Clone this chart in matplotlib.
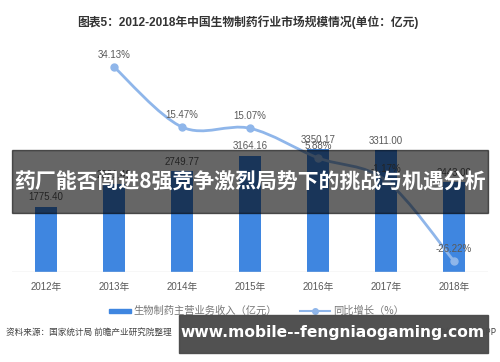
import matplotlib
matplotlib.use("Agg")
import matplotlib.pyplot as plt
from matplotlib.path import Path
from matplotlib.patches import PathPatch, Rectangle
import numpy as np

years = ["2012年", "2013年", "2014年", "2015年", "2016年", "2017年", "2018年"]
revenue = [1775.40, 2381.40, 2749.77, 3164.16, 3350.17, 3311.00, 2443.00]
growth = [None, 34.13, 15.47, 15.07, 5.88, -1.17, -26.22]
revenue_labels = ["1775.40", "2381.40", "2749.77", "3164.16", "3350.17", "3311.00", "2443.00"]
growth_labels = ["", "34.13%", "15.47%", "15.07%", "5.88%", "-1.17%", "-26.22%"]

title = "图表5：2012-2018年中国生物制药行业市场规模情况(单位：亿元)"
legend_bar = "生物制药主营业务收入（亿元）"
legend_line = "同比增长（%）"
source = "资料来源：国家统计局 前瞻产业研究院整理"
source_right = "@前瞻经济学人APP"
banner = "药厂能否闯进8强竞争激烈局势下的挑战与机遇分析"
banner2 = "www.mobile--fengniaogaming.com"

FAM = ["Liberation Sans", "Noto Sans CJK SC", "DejaVu Sans"]
CJK = ["Noto Sans CJK SC", "DejaVu Sans"]
plt.rcParams["font.family"] = FAM

BAR = "#3f86e0"
LINE = "#8fb6ea"
GRAY = "#595959"

fig = plt.figure(figsize=(5.0, 3.62), dpi=100)
W, H = 500, 362
ax = fig.add_axes([12 / W, 1 - 272 / H, 476 / W, 212 / H])
ax2 = ax.twinx()

x = np.arange(len(years))
ax.bar(x, revenue, width=0.31, color=BAR, zorder=2)
ax.set_xlim(-0.5, len(years) - 0.5)
ax.set_ylim(0, 5760)
ax2.set_ylim(-29.6, 36.3)
for a in (ax, ax2):
    for s in a.spines.values():
        s.set_visible(False)
    a.set_yticks([])
ax.axhline(0, color="#d9d9d9", lw=1.0, zorder=3)
ax.set_xticks(x)
ax.set_xticklabels(years, fontsize=7, color=GRAY)
ax.tick_params(axis="x", length=0, pad=7)

for xi, v, lab in zip(x, revenue, revenue_labels):
    ax.annotate(lab, (xi, v), xytext=(0, 3), textcoords="offset points",
                ha="center", va="bottom", fontsize=7, color=GRAY, zorder=4)

# smoothed line (Catmull-Rom bezier through the data points)
gx = [xi for xi, g in zip(x, growth) if g is not None]
gy = [g for g in growth if g is not None]
pts = np.column_stack([gx, gy]).astype(float)
verts = [tuple(pts[0])]
codes = [Path.MOVETO]
n = len(pts)
for i in range(n - 1):
    p0 = pts[i - 1] if i > 0 else pts[i]
    p1 = pts[i]
    p2 = pts[i + 1]
    p3 = pts[i + 2] if i + 2 < n else pts[i + 1]
    c1 = p1 + (p2 - p0) / 6.0
    c2 = p2 - (p3 - p1) / 6.0
    verts += [tuple(c1), tuple(c2), tuple(p2)]
    codes += [Path.CURVE4] * 3
ax2.add_patch(PathPatch(Path(verts, codes), fill=False, edgecolor=LINE, lw=2.0, zorder=3))
ax2.plot(gx, gy, linestyle="none", marker="o", ms=5, color=LINE, zorder=4)
for xi, g, lab in zip(x, growth, growth_labels):
    if g is None:
        continue
    ax2.annotate(lab, (xi, g), xytext=(0, 5), textcoords="offset points",
                 ha="center", va="bottom", fontsize=7, color=GRAY, zorder=5)

fig.text(248 / W, 1 - 22 / H, title, ha="center", va="center", fontsize=8.5,
         fontweight="bold", color="#333333", family=FAM)

# legend (manual)
fig.patches.append(Rectangle((109 / W, 1 - 313 / H), 22 / W, 4 / H, transform=fig.transFigure,
                             color=BAR))
fig.text(133 / W, 1 - 311 / H, legend_bar, ha="left", va="center", fontsize=7.4, color="#777777",
         family=CJK)
fig.lines.append(plt.Line2D([300 / W, 330 / W], [1 - 311 / H, 1 - 311 / H], transform=fig.transFigure,
                            color=LINE, lw=1.5, marker=None))
fig.lines.append(plt.Line2D([315 / W], [1 - 311 / H], transform=fig.transFigure,
                            color=LINE, marker="o", ms=4, linestyle="none"))
fig.text(333 / W, 1 - 311 / H, legend_line, ha="left", va="center", fontsize=7.4, color="#777777",
         family=CJK)

fig.text(6 / W, 1 - 332 / H, source, ha="left", va="center", fontsize=6.2, color="#444444", family=CJK)
fig.text(497 / W, 1 - 332 / H, source_right, ha="right", va="center", fontsize=6.2, color="#444444",
         family=CJK)

# overlay banners
fig.patches.append(Rectangle((12 / W, 1 - 213 / H), 476 / W, 63 / H, transform=fig.transFigure,
                             color="black", alpha=0.6, zorder=10))
fig.text(250 / W, 1 - 182 / H, banner, ha="center", va="center", fontsize=15, fontweight="bold",
         color="white", family=CJK, zorder=11)
fig.patches.append(Rectangle((179 / W, 1 - 353 / H), 309 / W, 38 / H, transform=fig.transFigure,
                             color="#4b4b4b", alpha=0.97, zorder=10))
fig.text(333 / W, 1 - 333 / H, banner2, ha="center", va="center", fontsize=11.2, fontweight="bold",
         color="white", family=["DejaVu Sans"], zorder=11)

fig.savefig("out.png", dpi=100)
